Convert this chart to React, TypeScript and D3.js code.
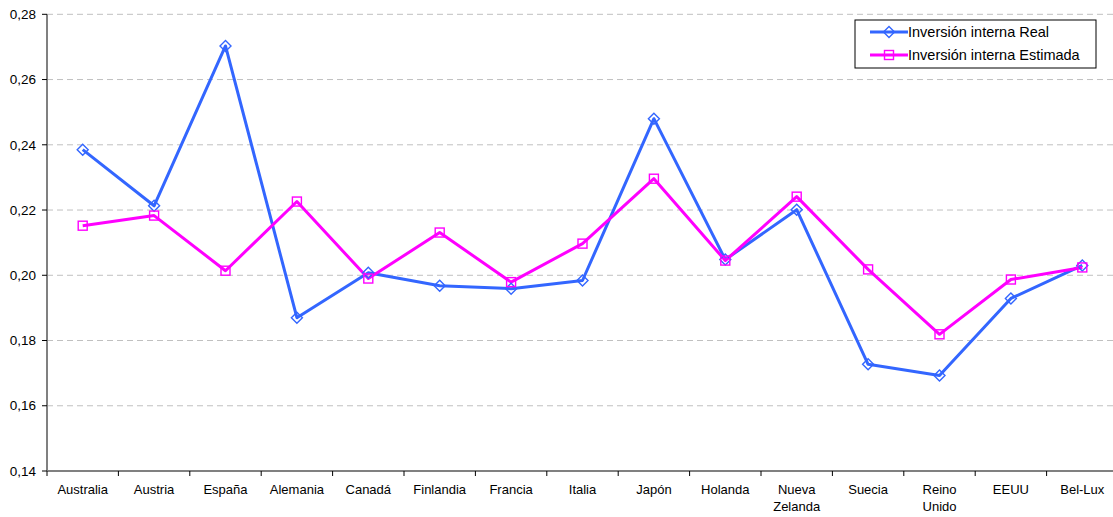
import React from "react";
import * as d3 from "d3";

const categories = ["Australia", "Austria", "España", "Alemania", "Canadá", "Finlandia", "Francia", "Italia", "Japón", "Holanda", "Nueva Zelanda", "Suecia", "Reino Unido", "EEUU", "Bel-Lux"];
const realValues = [0.2385, 0.2213, 0.2703, 0.187, 0.2008, 0.1968, 0.1959, 0.1984, 0.248, 0.2048, 0.2201, 0.1727, 0.1693, 0.1929, 0.203];
const estimadaValues = [0.2152, 0.2183, 0.2014, 0.2226, 0.199, 0.2131, 0.1979, 0.2097, 0.2296, 0.2045, 0.2241, 0.2018, 0.1819, 0.1987, 0.2024];
const yTicks = [0.14, 0.16, 0.18, 0.2, 0.22, 0.24, 0.26, 0.28];
const seriesNames = ["Inversión interna Real", "Inversión interna Estimada"];

const W = 1113, H = 517;
const left = 47, top = 14.3, bottom = 471, step = 71.4;
const right = left + step * categories.length;
const BLUE = "#3366FF", MAG = "#FF00FF";
const FONT = "'Liberation Sans', Arial, sans-serif";

export default function App() {
  const x = d3.scaleBand<string>().domain(categories).range([left, right]);
  const y = d3.scaleLinear().domain([0.14, 0.28]).range([bottom, top]);
  const cx = (c: string) => (x(c) as number) + x.bandwidth() / 2;
  const line = d3.line<number>().x((_, i) => cx(categories[i])).y((v) => y(v));
  const fmt = (v: number) => v.toFixed(2).replace(".", ",");

  const diamond = (px: number, py: number, k: string) => (
    <path key={k} d={`M${px},${py - 5.5}L${px + 5.5},${py}L${px},${py + 5.5}L${px - 5.5},${py}Z`} fill="none" stroke={BLUE} strokeWidth={1.4} />
  );
  const square = (px: number, py: number, k: string) => (
    <rect key={k} x={px - 4.5} y={py - 4.5} width={9} height={9} fill="none" stroke={MAG} strokeWidth={1.4} />
  );

  return (
    <svg width={W} height={H} style={{ position: "absolute", left: 0, top: 0, background: "white" }} fontFamily={FONT}>
      {yTicks.filter((t) => t > 0.14).map((t) => (
        <line key={t} x1={left} x2={right} y1={y(t)} y2={y(t)} stroke="#c0c0c0" strokeDasharray="6,4" strokeWidth={1} />
      ))}
      <line x1={left} x2={left} y1={top} y2={bottom} stroke="#808080" strokeWidth={2} />
      <line x1={left} x2={right} y1={bottom} y2={bottom} stroke="#808080" strokeWidth={2} />
      {yTicks.map((t) => (
        <g key={t}>
          <line x1={left - 5} x2={left} y1={y(t)} y2={y(t)} stroke="#000" />
          <text x={36} y={y(t)} dy="0.35em" textAnchor="end" fontSize={13.5} fill="#000">{fmt(t)}</text>
        </g>
      ))}
      {categories.map((c, i) => (
        <line key={"t" + i} x1={x(c) as number} x2={x(c) as number} y1={bottom} y2={bottom + 5} stroke="#000" />
      ))}
      {categories.map((c) => {
        const words = c.split(" ");
        return (
          <text key={c} x={cx(c)} y={494} textAnchor="middle" fontSize={13} fill="#000">
            {words.map((w, j) => (
              <tspan key={j} x={cx(c)} dy={j === 0 ? 0 : 17}>{w}</tspan>
            ))}
          </text>
        );
      })}
      <path d={line(realValues) as string} fill="none" stroke={BLUE} strokeWidth={3} strokeLinejoin="round" />
      <path d={line(estimadaValues) as string} fill="none" stroke={MAG} strokeWidth={3} strokeLinejoin="round" />
      {realValues.map((v, i) => diamond(cx(categories[i]), y(v), "d" + i))}
      {estimadaValues.map((v, i) => square(cx(categories[i]), y(v), "s" + i))}
      <g>
        <rect x={855} y={20} width={241} height={48} fill="white" stroke="#000" strokeWidth={1} />
        <line x1={870} x2={908} y1={32} y2={32} stroke={BLUE} strokeWidth={3} />
        {diamond(889, 32, "ld")}
        <text x={908} y={32} dy="0.36em" fontSize={14.5} fill="#000">{seriesNames[0]}</text>
        <line x1={870} x2={908} y1={55} y2={55} stroke={MAG} strokeWidth={3} />
        {square(889, 55, "ls")}
        <text x={908} y={55} dy="0.36em" fontSize={14.5} fill="#000">{seriesNames[1]}</text>
      </g>
    </svg>
  );
}
